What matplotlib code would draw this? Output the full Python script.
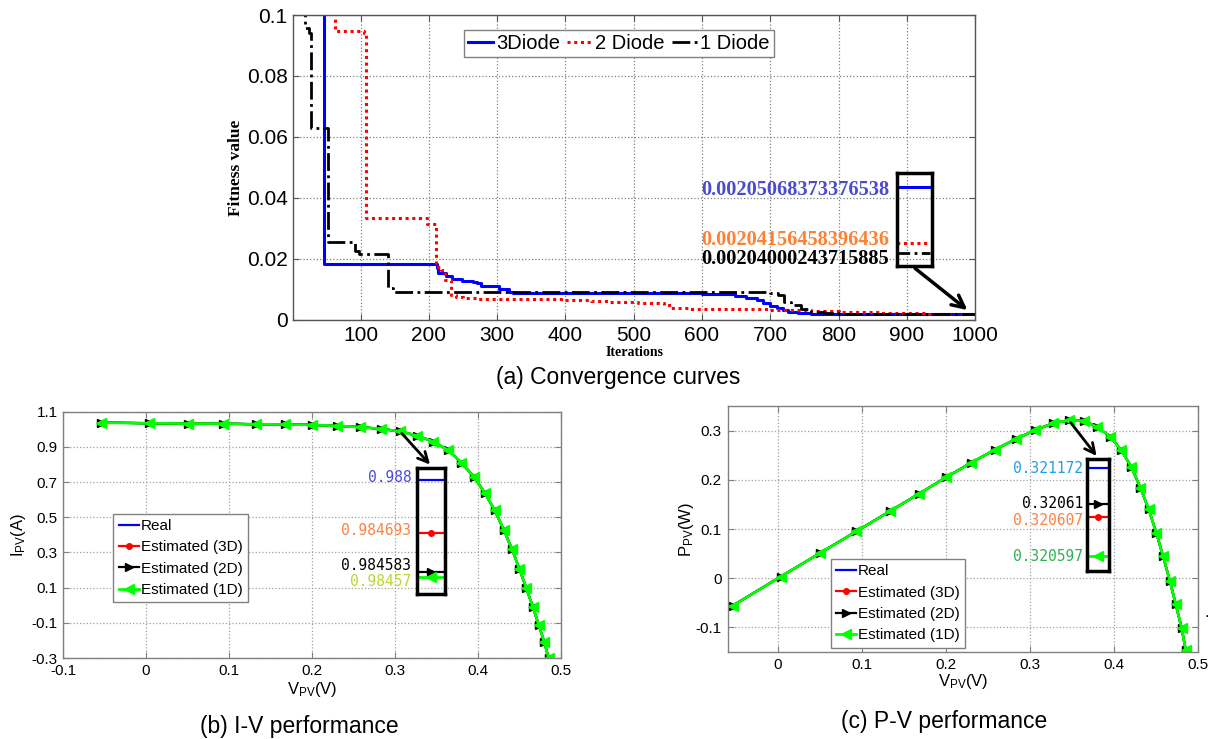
import numpy as np
import matplotlib
matplotlib.use("Agg")
import matplotlib.pyplot as plt
from matplotlib.ticker import FuncFormatter
from matplotlib.transforms import blended_transform_factory

# ---------------------------------------------------------------------------
# Data
# ---------------------------------------------------------------------------
# (a) best fitness value per iteration, stored at the iterations where it changes
iter_3d = [1, 46, 212, 214, 225, 234, 249, 265, 270, 276, 297, 302, 318, 323,
           600, 625, 648, 665, 680, 690, 700, 710, 718, 726, 740, 760, 1000]
fit_3d = [0.30, 0.0184, 0.0170, 0.0155, 0.0145, 0.0133, 0.0128, 0.0125, 0.0120,
          0.0113, 0.0110, 0.0102, 0.0093, 0.0087, 0.0086, 0.0084, 0.0080, 0.0072,
          0.0064, 0.0057, 0.0047, 0.0038, 0.0032, 0.0026, 0.0022,
          0.00205068373376538, 0.00205068373376538]

iter_2d = [1, 62, 105, 108, 197, 210, 217, 223, 233, 239, 250, 270, 396, 438,
           465, 507, 544, 554, 580, 628, 700, 760, 800, 860, 930, 1000]
fit_2d = [0.30, 0.0949, 0.0940, 0.0334, 0.0315, 0.0175, 0.0165, 0.0131, 0.0082,
          0.0075, 0.0072, 0.0068, 0.0065, 0.0062, 0.0058, 0.0056, 0.0049, 0.0038,
          0.0036, 0.0035, 0.0033, 0.0030, 0.0027, 0.0024,
          0.00204156458396436, 0.00204156458396436]

iter_1d = [1, 18, 24, 28, 52, 92, 97, 140, 147, 700, 711, 720, 731, 745, 760,
           780, 800, 1000]
fit_1d = [0.30, 0.0956, 0.0940, 0.0628, 0.0257, 0.0225, 0.0216, 0.0104, 0.0091,
          0.0089, 0.0082, 0.0060, 0.0049, 0.0035, 0.0027, 0.0023,
          0.00204000243715885, 0.00204000243715885]

final_fit_text = ['0.00205068373376538', '0.00204156458396436', '0.00204000243715885']

# (b), (c) measured cell characteristic
v_pv = [-0.054, 0.003, 0.050, 0.093, 0.133, 0.168, 0.200, 0.230, 0.258, 0.283,
        0.306, 0.327, 0.346, 0.364, 0.380, 0.395, 0.408, 0.420, 0.431, 0.441,
        0.450, 0.458, 0.466, 0.473, 0.480, 0.485]
i_pv = [1.038, 1.034, 1.032, 1.032, 1.028, 1.027, 1.025, 1.019, 1.012, 1.002,
        0.988, 0.963, 0.930, 0.882, 0.810, 0.730, 0.640, 0.540, 0.430, 0.318,
        0.205, 0.100, -0.008, -0.110, -0.210, -0.300]
p_pv = [-0.056, 0.003, 0.051, 0.095, 0.136, 0.172, 0.205, 0.235, 0.261, 0.283,
        0.301, 0.315, 0.321, 0.320, 0.307, 0.288, 0.261, 0.227, 0.184, 0.140,
        0.092, 0.045, -0.005, -0.052, -0.101, -0.146]

# data tips: Real, Estimated (3D), Estimated (2D), Estimated (1D)
iv_tip_text = ['0.988', '0.984693', '0.984583', '0.98457']
pv_tip_text = ['0.321172', '0.320607', '0.32061', '0.320597']
iv_tip_index = 10
pv_tip_index = 12

series_labels = ['Real', 'Estimated (3D)', 'Estimated (2D)', 'Estimated (1D)']

# ---------------------------------------------------------------------------
# Style
# ---------------------------------------------------------------------------
plt.rcParams['font.family'] = 'Liberation Sans'
plt.rcParams['axes.unicode_minus'] = False
plt.rcParams['mathtext.default'] = 'regular'

SERIF = 'Liberation Serif'
MONO = 'DejaVu Sans Mono'

series_style = [
    dict(color='#0000ff', lw=1.6),
    dict(color='#ff0000', lw=1.6, marker='o', ms=4),
    dict(color='black', lw=1.6, marker='>', ms=6),
    dict(color='#00ff00', lw=2.0, marker='<', ms=7),
]
fmt_g = FuncFormatter(lambda v, pos: f"{v:g}")


def piecewise_scale(ax, knot_val, knot_pos):
    """Stretch the y axis so that closely spaced tip values can be told apart."""
    fwd = lambda y: np.interp(y, knot_val, knot_pos)
    inv = lambda p: np.interp(p, knot_pos, knot_val)
    ax.set_yscale('function', functions=(fwd, inv))
    ax.set_ylim(knot_val[0], knot_val[-1])


def tip_box(ax, bounds):
    box = ax.inset_axes(bounds, transform=ax.transData)
    box.patch.set_alpha(0)
    box.set_xticks([])
    box.set_yticks([])
    for s in box.spines.values():
        s.set_linewidth(2.5)
        s.set_color('black')
    box.set_zorder(5)
    return box


def style_axes(ax, grid_color, spine_color, label_size):
    ax.grid(True, linestyle=':', color=grid_color, lw=0.9)
    ax.tick_params(direction='in', top=True, right=True, length=4,
                   labelsize=label_size, color=spine_color, pad=4)
    for s in ax.spines.values():
        s.set_color(spine_color)
        s.set_linewidth(1.0)


fig = plt.figure(figsize=(12.15, 7.39), dpi=100)

# ── (a) Convergence curves ────────────────────────────────────────────────
ax1 = fig.add_axes([0.2412, 0.5670, 0.5613, 0.4127])
ax1.plot(iter_3d, fit_3d, drawstyle='steps-post', color='#0000ff', lw=2.2, label='3Diode')
ax1.plot(iter_2d, fit_2d, drawstyle='steps-post', color='#ff0000', lw=2.2,
         linestyle=(0, (1, 1.2)), label='2 Diode')
ax1.plot(iter_1d, fit_1d, drawstyle='steps-post', color='black', lw=2.0,
         linestyle='-.', label='1 Diode')
ax1.set_xlim(1, 1000)
ax1.set_ylim(0, 0.1)
ax1.set_xticks(np.arange(100, 1001, 100))
ax1.set_yticks(np.arange(0, 0.101, 0.02))
ax1.xaxis.set_major_formatter(fmt_g)
ax1.yaxis.set_major_formatter(fmt_g)
style_axes(ax1, '#808080', '#555555', 15)
ax1.set_ylabel('Fitness value', family=SERIF, fontweight='bold', fontsize=12.5)
ax1.yaxis.set_label_coords(-0.072, 0.5)
ax1.set_xlabel('Iterations', family=SERIF, fontweight='bold', fontsize=10)
ax1.xaxis.set_label_coords(0.5, -0.108)
ax1.xaxis.label.set_verticalalignment('center')
ax1.legend(loc='upper left', bbox_to_anchor=(0.250, 0.950), ncol=3, fontsize=14.5,
           handlelength=1.25, handletextpad=0.17, columnspacing=0.33, borderpad=0.2,
           fancybox=False, edgecolor='#808080', framealpha=1, borderaxespad=0)

box1 = tip_box(ax1, (886, 0.0177, 50.5, 0.0304))
for it, ft, st in [(iter_3d, fit_3d, dict(color='#0000ff', lw=2.2)),
                   (iter_2d, fit_2d, dict(color='#ff0000', lw=2.2, linestyle=(0, (1, 1.2)))),
                   (iter_1d, fit_1d, dict(color='black', lw=2.0, linestyle='-.'))]:
    box1.plot(it, ft, drawstyle='steps-post', **st)
box1.set_xlim(940, 1004)
box1.set_ylim(0.0020379, 0.0020529)
tr1 = blended_transform_factory(box1.transAxes, box1.transData)
for txt, col, dy in zip(final_fit_text, ['#4b4bd0', '#ff8030', 'black'], [-2.4, 2.4, -4.1]):
    box1.annotate(txt, xy=(0, float(txt)), xycoords=tr1, xytext=(-5.8, dy),
                  textcoords='offset points', ha='right', va='center', color=col,
                  family=SERIF, fontweight='bold', fontsize=14.7, annotation_clip=False)
ax1.annotate('', xy=(992, 0.0027), xytext=(909, 0.0175),
             arrowprops=dict(arrowstyle='->', lw=2.5, color='black', mutation_scale=22))

# ── (b) I-V and (c) P-V ─────────────────────────────────────────────────────
ax2 = fig.add_axes([0.0519, 0.1096, 0.4098, 0.3334])
ax3 = fig.add_axes([0.5988, 0.1177, 0.3875, 0.3329])

for ax, y in [(ax2, i_pv), (ax3, p_pv)]:
    for lab, st in zip(series_labels, series_style):
        ax.plot(v_pv, y, label=lab, **st)

ax2.set_xlim(-0.1, 0.5)
ax2.set_ylim(-0.3, 1.1)
ax2.set_xticks(np.arange(-0.1, 0.51, 0.1))
ax2.set_yticks(np.arange(-0.3, 1.11, 0.2))
ax3.set_xlim(-0.06, 0.5)
ax3.set_ylim(-0.15, 0.35)
ax3.set_xticks(np.arange(0, 0.51, 0.1))
ax3.set_yticks(np.arange(-0.1, 0.31, 0.1))

for ax in (ax2, ax3):
    ax.xaxis.set_major_formatter(fmt_g)
    ax.yaxis.set_major_formatter(fmt_g)
    style_axes(ax, '#a0a0a0', '#808080', 11)
    ax.set_xlabel('V$_{PV}$(V)', fontsize=12)

ax2.set_ylabel('I$_{PV}$(A)', fontsize=12)
ax2.yaxis.set_label_coords(-0.070, 0.5)
ax2.xaxis.set_label_coords(0.5, -0.09)
ax3.set_ylabel('P$_{PV}$(W)', fontsize=12)
ax3.yaxis.set_label_coords(-0.066, 0.5)
ax3.xaxis.set_label_coords(0.5, -0.082)

leg_kw = dict(fontsize=11, handlelength=1.3, handletextpad=0.15, labelspacing=0.48,
              borderpad=0.35, fancybox=False, edgecolor='#808080', framealpha=1,
              borderaxespad=0)
ax2.legend(loc='lower left', bbox_to_anchor=(0.101, 0.226), **leg_kw)
ax3.legend(loc='lower left', bbox_to_anchor=(0.219, 0.017), **leg_kw)

# tip boxes with stretched y axis
iv_knot_val = [0.98450, 0.98457, 0.984583, 0.984693, 0.988, 0.98810]
iv_knot_pos = [0.0, 0.135, 0.175, 0.484, 0.905, 1.0]
pv_knot_val = [0.32059, 0.320597, 0.320607, 0.32061, 0.321172, 0.32120]
pv_knot_pos = [0.0, 0.132, 0.485, 0.596, 0.925, 1.0]

tips = [
    (ax2, (0.3268, 0.064, 0.0337, 0.716), iv_knot_val, iv_knot_pos, iv_tip_text,
     ['#4a4ad6', '#ff8040', 'black', '#bcd632'], [1.5, 2.0, 4.3, -3.6], 4.3,
     (v_pv[iv_tip_index], i_pv[iv_tip_index]), (0.3445, 0.7875)),
    (ax3, (0.3675, 0.0143, 0.0265, 0.2277), pv_knot_val, pv_knot_pos, pv_tip_text,
     ['#1fa0e6', '#ff8040', 'black', '#30b050'], [-1.0, -2.9, 0.7, 0.0], 2.9,
     (v_pv[pv_tip_index], p_pv[pv_tip_index]), (0.381, 0.244)),
]
for ax, bounds, kv, kp, texts, cols, dys, gap, tail, head in tips:
    box = tip_box(ax, bounds)
    box.set_xlim(0, 1)
    piecewise_scale(box, kv, kp)
    box.set_yticks([])
    box.set_yticks([], minor=True)
    for txt, st in zip(texts, series_style):
        val = float(txt)
        box.plot([0.06, 0.5, 0.94], [val] * 3, markevery=[1], **st)
    tr = blended_transform_factory(box.transAxes, box.transData)
    for txt, col, dy in zip(texts, cols, dys):
        box.annotate(txt, xy=(0, float(txt)), xycoords=tr, xytext=(-gap, dy),
                     textcoords='offset points', ha='right', va='center', color=col,
                     family=MONO, fontsize=10.5, annotation_clip=False)
    ax.annotate('', xy=head, xytext=tail,
                arrowprops=dict(arrowstyle='->', lw=2.0, color='black', mutation_scale=18))

# captions
fig.text(0.5086, 0.4885, '(a) Convergence curves', ha='center', va='center', fontsize=16.5)
fig.text(0.2465, 0.0167, '(b) I-V performance', ha='center', va='center', fontsize=16.5)
fig.text(0.7774, 0.0234, '(c) P-V performance', ha='center', va='center', fontsize=16.5)
fig.text(0.9935, 0.171, '.', ha='center', va='center', fontsize=12)

fig.savefig('out.png', dpi=100)
